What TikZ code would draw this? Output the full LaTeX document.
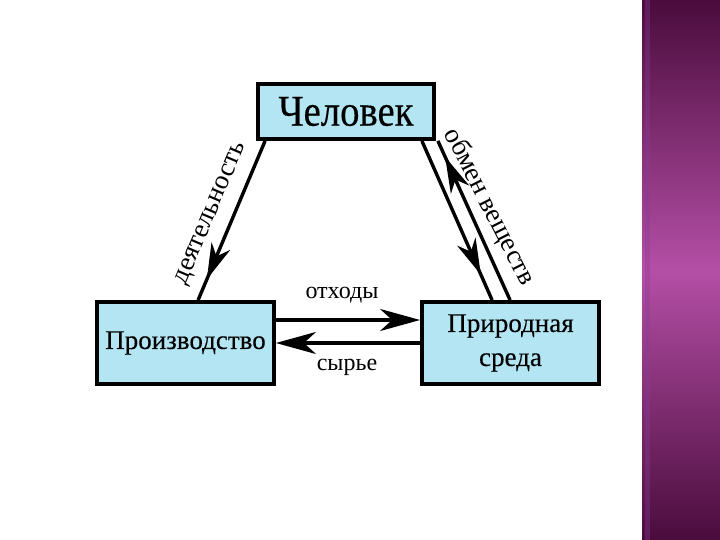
\documentclass[tikz,border=0pt]{standalone}
\usepackage{fontspec}
\setmainfont{Liberation Serif}
\newfontfamily\boxserif[FakeBold=0.3]{Liberation Serif}
\newfontfamily\condserif[FakeStretch=0.88,FakeBold=0.3]{Liberation Serif}
\usetikzlibrary{arrows.meta,calc,decorations.markings}
\definecolor{boxcyan}{HTML}{B3E5F2}
\definecolor{plumdark}{HTML}{4A0C3C}
\definecolor{plumlight}{HTML}{B44FA6}
\definecolor{plumedge}{HTML}{8A3A98}

\tikzset{
  blockbox/.style={draw=black,fill=boxcyan,line width=3.8pt,align=center,inner sep=0pt},
  flow/.style={line width=3.4pt},
  bigtip/.style={-{Stealth[length=40pt,width=22pt,inset=12pt]}},
  midtip/.style={postaction={decorate},decoration={markings,
      mark=at position #1 with {\arrow{Stealth[length=36pt,width=20pt,inset=11pt]}}}},
  flowlabel/.style={font=\fontsize{24}{28}\selectfont},
  slopelabel/.style={font=\fontsize{27}{30}\selectfont}
}

\begin{document}
\begin{tikzpicture}[x=1pt,y=-1pt]
    \useasboundingbox (0,0) rectangle (720,540);
    \fill[white] (0,0) rectangle (720,540);
    % side strip
    \shade[top color=plumdark,bottom color=plumdark,middle color=plumlight] (642,0) rectangle (720,540);
    \fill[plumedge,opacity=0.35] (645,0) rectangle (650,540);

    % blocks
    \node[blockbox,minimum width=176pt,minimum height=55pt,font=\condserif\fontsize{44}{48}\selectfont]
      (chel) at (346,111.5) {Человек};
    \node[blockbox,minimum width=177pt,minimum height=82pt,font=\boxserif\fontsize{27}{32}\selectfont]
      (prod) at (185.5,343) {Производство};
    \node[blockbox,minimum width=177pt,minimum height=82pt,font=\boxserif\fontsize{27}{34}\selectfont]
      (sreda) at (510.5,343) {Природная\\среда};

    % connectors
    \draw[flow,midtip=0.87] ($(chel.south west)+(9,0)$) -- ($(prod.north west)+(103,0)$);
    \draw[flow,midtip=0.84] ($(chel.south east)+(-14,0)$) -- ($(sreda.north west)+(72,0)$);
    \draw[flow,midtip=0.9] ($(sreda.north west)+(90,0)$) -- ($(chel.south east)+(2,0)$);
    \draw[flow,bigtip] ($(prod.east)+(0,-23)$) -- ($(sreda.west)+(0,-23)$);
    \draw[flow,bigtip] (sreda.west) -- (prod.east);

    % labels
    \node[flowlabel] (otx) at (342,295) {отходы};
    \node[flowlabel] (syr) at (347,367) {сырье};
    \node[slopelabel,rotate=67] (deyat) at (212,214) {деятельность};
    \node[slopelabel,rotate=-63] (obmen) at (489,207) {обмен веществ};
  \end{tikzpicture}
\end{document}
